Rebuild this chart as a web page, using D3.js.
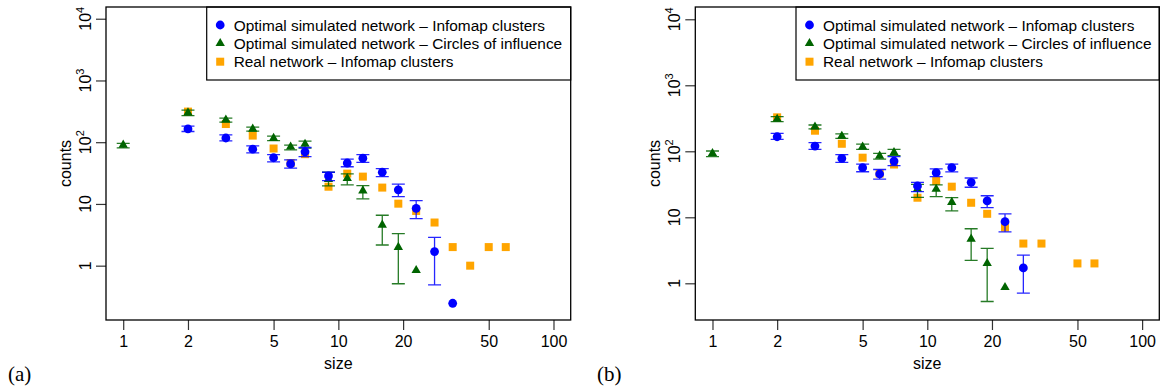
<!DOCTYPE html>
<html>
<head>
<meta charset="utf-8">
<script src="https://cdn.jsdelivr.net/npm/d3@7"></script>
<style>
  html, body { margin: 0; padding: 0; background: #fff; }
  svg { display: block; }
  text { font-family: "Liberation Sans", Arial, Helvetica, sans-serif; fill: #000; }
  text.panel-label { font-family: "Liberation Serif", "Times New Roman", serif; }
</style>
</head>
<body>
<svg id="chart" width="1166" height="391"></svg>
<script>
// ---------------- data ----------------
const seriesNames = [
  "Optimal simulated network \u2013 Infomap clusters",
  "Optimal simulated network \u2013 Circles of influence",
  "Real network \u2013 Infomap clusters"
];
const seriesColors = ["#0000ff", "#006400", "#ffa500"];

const xTicks = [1, 2, 5, 10, 20, 50, 100];
const yTicks = [1, 10, 100, 1000, 10000];
const yTickBase = ["1", "10", "10", "10", "10"];
const yTickSup = ["", "", "2", "3", "4"];

// Panel (a)
const aInfoSize = [2, 3, 4, 5, 6, 7, 9, 11, 13, 16, 19, 23, 28, 34];
const aInfoMean = [164, 117, 77, 56, 44.5, 70, 28.4, 46, 55, 32.6, 16.9, 8.5, 1.69, 0.246];
const aInfoLow  = [149, 105, 67, 48, 38, 58.5, 23.9, 40, 47, 27.7, 13.1, 5.78, 0.49, null];
const aInfoHigh = [182, 131, 87, 63, 51.6, 82, 32.6, 53, 63, 37.3, 20.9, 11.3, 2.88, null];

const aCircSize = [1, 2, 3, 4, 5, 6, 7, 9, 11, 13, 16, 19, 23];
const aCircMean = [90, 300, 230, 164, 116, 84, 93, 25, 26, 16.4, 4.57, 1.99, 0.84];
const aCircLow  = [81, 270, 211, 151, 106, 75, 80, 19.6, 20.3, 12.1, 2.16, 0.51, null];
const aCircHigh = [96, 330, 245, 175, 125, 90, 104, 32.6, 30.6, 19.8, 6.56, 3.3, null];

const aRealSize  = [2, 3, 4, 5, 6, 7, 9, 11, 13, 16, 19, 23, 28, 34, 41, 50, 60];
const aRealCount = [313, 197, 128, 79, 46, 64, 19, 31, 27.7, 18.4, 10.1, 7.7, 5, 2, 1, 2, 2];

// Panel (b)
const bInfoSize = [2, 3, 4, 5, 6, 7, 9, 11, 13, 16, 19, 23, 28];
const bInfoMean = [166, 120, 78, 56.5, 45.3, 71, 29.8, 47.4, 56.5, 33.9, 17.7, 8.57, 1.71];
const bInfoLow  = [152, 107, 68, 49, 38, 60.5, 24.4, 41.3, 48.6, 28.5, 14, 6.0, 0.71];
const bInfoHigh = [187, 135, 89, 64, 53, 83, 33.9, 54, 64, 39.4, 21.2, 11.3, 2.68];

const bCircSize = [1, 2, 3, 4, 5, 6, 7, 9, 11, 13, 16, 19, 23];
const bCircMean = [93, 308, 234, 170, 117, 85, 96, 26.8, 26.8, 16.9, 4.69, 2.01, 0.87];
const bCircLow  = [83, 281, 218, 157, 107, 76, 86, 20.1, 20.5, 12.5, 2.23, 0.53, null];
const bCircHigh = [101, 334, 250, 183, 128, 93, 107, 31.6, 30.9, 19.8, 6.7, 3.39, null];

const bRealSize  = [2, 3, 4, 5, 6, 7, 9, 11, 13, 16, 19, 23, 28, 34, 50, 60];
const bRealCount = [327, 205, 130, 80, 46, 63, 19.8, 35.5, 29.1, 16.6, 11.3, 7, 4, 4, 2, 2];

// ---------------- drawing ----------------
const svg = d3.select("#chart");
const xDomain = [Math.pow(10, -0.08), Math.pow(10, 2.08)];

function zip(sz, m, lo, hi) {
  return sz.map((s, i) => ({ s: s, m: m[i], lo: lo ? lo[i] : null, hi: hi ? hi[i] : null }));
}

function drawPanel(cfg) {
  const g = svg.append("g");
  const x = d3.scaleLog().domain(xDomain).range([cfg.left, cfg.right]);
  const y = d3.scaleLog().domain(cfg.yDomain).range([cfg.bottom, cfg.top]);

  // x axis
  const xAxis = d3.axisBottom(x).tickValues(xTicks).tickFormat(d3.format("d")).tickSize(10).tickPadding(6);
  const gx = g.append("g").attr("transform", `translate(0,${cfg.bottom})`).call(xAxis);
  gx.select(".domain").remove();
  gx.selectAll(".tick line").attr("stroke", "#333").attr("stroke-width", 1.2);
  gx.selectAll(".tick text").attr("font-size", 16).attr("fill", "#000");

  // y axis
  const yAxis = d3.axisLeft(y).tickValues(yTicks).tickFormat("").tickSize(10);
  const gy = g.append("g").attr("transform", `translate(${cfg.left},0)`).call(yAxis);
  gy.select(".domain").remove();
  gy.selectAll(".tick line").attr("stroke", "#333").attr("stroke-width", 1.2);
  yTicks.forEach((v, i) => {
    const t = g.append("text")
      .attr("transform", `translate(${cfg.left - 15},${y(v)}) rotate(-90)`)
      .attr("text-anchor", "middle")
      .attr("font-size", 16);
    t.append("tspan").text(yTickBase[i]);
    if (yTickSup[i]) {
      t.append("tspan").attr("font-size", 11).attr("dy", -7).text(yTickSup[i]);
    }
  });

  // axis titles
  g.append("text")
    .attr("x", (cfg.left + cfg.right) / 2).attr("y", cfg.bottom + 49)
    .attr("text-anchor", "middle").attr("font-size", 16).text("size");
  g.append("text")
    .attr("transform", `translate(${cfg.left - 35.5},${(cfg.top + cfg.bottom) / 2}) rotate(-90)`)
    .attr("text-anchor", "middle").attr("font-size", 16).text("counts");

  // panel label
  g.append("text").attr("class", "panel-label")
    .attr("x", cfg.labelX).attr("y", 381).attr("font-size", 21).text(cfg.label);

  const plot = g.append("g");

  function errorBars(data, color) {
    const eb = data.filter(d => d.lo != null && d.hi != null);
    const cap = 6.5;
    plot.append("g").selectAll("path").data(eb).join("path")
      .attr("d", d => {
        const cx = x(d.s), y1 = y(d.lo), y2 = y(d.hi);
        return `M${cx},${y1}V${y2}M${cx - cap},${y1}H${cx + cap}M${cx - cap},${y2}H${cx + cap}`;
      })
      .attr("fill", "none").attr("stroke", color).attr("stroke-width", 1.3).attr("stroke-opacity", 0.85);
  }

  // real network (squares) - drawn first
  const real = zip(cfg.realSize, cfg.realCount);
  plot.append("g").selectAll("rect").data(real).join("rect")
    .attr("x", d => x(d.s) - 4).attr("y", d => y(d.m) - 4)
    .attr("width", 8).attr("height", 8).attr("fill", seriesColors[2]);

  // circles of influence (triangles)
  const circ = zip(cfg.circSize, cfg.circMean, cfg.circLow, cfg.circHigh);
  errorBars(circ, seriesColors[1]);
  const tri = d3.symbol().type(d3.symbolTriangle).size(38);
  plot.append("g").selectAll("path").data(circ).join("path")
    .attr("d", tri).attr("transform", d => `translate(${x(d.s)},${y(d.m)})`)
    .attr("fill", seriesColors[1]);

  // infomap (circles)
  const info = zip(cfg.infoSize, cfg.infoMean, cfg.infoLow, cfg.infoHigh);
  errorBars(info, seriesColors[0]);
  plot.append("g").selectAll("circle").data(info).join("circle")
    .attr("cx", d => x(d.s)).attr("cy", d => y(d.m)).attr("r", 4.4)
    .attr("fill", seriesColors[0]);

  // legend
  const lg = g.append("g");
  lg.append("rect")
    .attr("x", cfg.legendLeft).attr("y", cfg.top)
    .attr("width", cfg.right - cfg.legendLeft).attr("height", 73)
    .attr("fill", "#fff").attr("stroke", "#000").attr("stroke-width", 1.2);
  const rowY = [25, 43.3, 61.7];
  const sx = cfg.legendLeft + 13.5, tx = cfg.legendLeft + 27;
  lg.append("circle").attr("cx", sx).attr("cy", rowY[0]).attr("r", 4.4).attr("fill", seriesColors[0]);
  lg.append("path").attr("d", tri).attr("transform", `translate(${sx},${rowY[1]})`).attr("fill", seriesColors[1]);
  lg.append("rect").attr("x", sx - 4).attr("y", rowY[2] - 4).attr("width", 8).attr("height", 8).attr("fill", seriesColors[2]);
  seriesNames.forEach((name, i) => {
    lg.append("text").attr("x", tx).attr("y", rowY[i] + 5.5).attr("font-size", 15.4).text(name);
  });

  // box
  g.append("rect")
    .attr("x", cfg.left).attr("y", cfg.top)
    .attr("width", cfg.right - cfg.left).attr("height", cfg.bottom - cfg.top)
    .attr("fill", "none").attr("stroke", "#000").attr("stroke-width", 1.3);
}

drawPanel({
  left: 106, right: 570.7, top: 7, bottom: 320,
  yDomain: [Math.pow(10, -0.88), Math.pow(10, 4.19)],
  legendLeft: 206.7, label: "(a)", labelX: 8,
  infoSize: aInfoSize, infoMean: aInfoMean, infoLow: aInfoLow, infoHigh: aInfoHigh,
  circSize: aCircSize, circMean: aCircMean, circLow: aCircLow, circHigh: aCircHigh,
  realSize: aRealSize, realCount: aRealCount
});

drawPanel({
  left: 695.3, right: 1159.3, top: 7, bottom: 320,
  yDomain: [Math.pow(10, -0.556), Math.pow(10, 4.186)],
  legendLeft: 796, label: "(b)", labelX: 597,
  infoSize: bInfoSize, infoMean: bInfoMean, infoLow: bInfoLow, infoHigh: bInfoHigh,
  circSize: bCircSize, circMean: bCircMean, circLow: bCircLow, circHigh: bCircHigh,
  realSize: bRealSize, realCount: bRealCount
});
</script>
</body>
</html>
